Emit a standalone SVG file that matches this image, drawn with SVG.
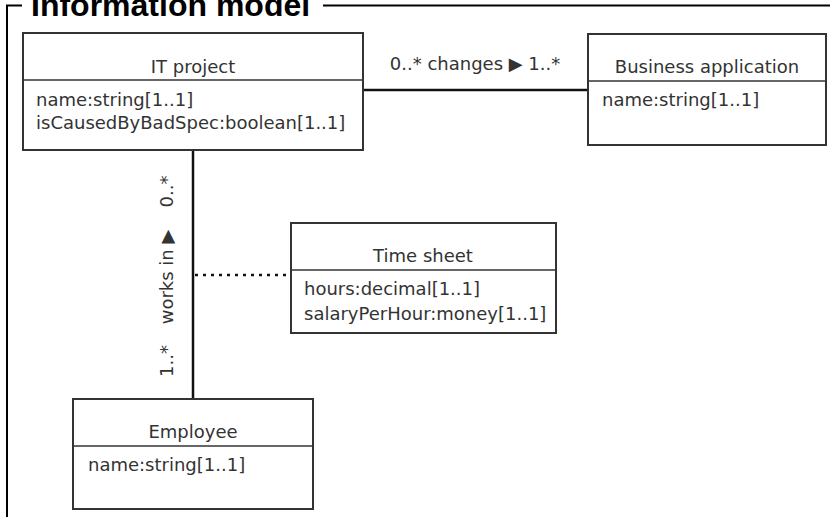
<svg xmlns="http://www.w3.org/2000/svg" width="830" height="517" viewBox="0 0 830 517">
<style>
.frame{fill:none;stroke:#000;stroke-width:2}
.title{font-family:"Liberation Sans",Arial,sans-serif;font-weight:bold;font-size:32px;fill:#000}
.box{fill:#fff;stroke:#333;stroke-width:2}
.div{stroke:#333;stroke-width:1.5}
.t{font-family:"DejaVu Sans",Verdana,sans-serif;font-size:18px;fill:#333}
.c{text-anchor:middle}
.conn{fill:none;stroke:#111;stroke-width:2.5}
.dot{fill:none;stroke:#111;stroke-width:2.5;stroke-dasharray:3 5}
</style>
<g id="frame">
<path class="frame" d="M22,5.5 H7 V517"/>
<line class="frame" x1="323" y1="5.5" x2="830" y2="5.5"/>
<text class="title" x="31" y="16">Information model</text>
</g>
<g id="connectors">
<line class="conn" x1="363" y1="90" x2="588" y2="90"/>
<line class="conn" x1="193" y1="150" x2="193" y2="399"/>
<line class="dot" x1="195" y1="275" x2="291" y2="275"/>
<text class="t c" x="475" y="70">0..* changes ▶ 1..*</text>
<text class="t c" transform="translate(173,191.5) rotate(-90)">0..*</text>
<text class="t c" transform="translate(173,277) rotate(-90)">works in ▶</text>
<text class="t c" transform="translate(173,361) rotate(-90)">1..*</text>
</g>
<g id="it-project">
<rect class="box" x="23" y="33" width="340" height="117"/>
<line class="div" x1="23" y1="80" x2="363" y2="80"/>
<text class="t c" x="193" y="73">IT project</text>
<text class="t" x="36" y="106">name:string[1..1]</text>
<text class="t" x="36" y="129">isCausedByBadSpec:boolean[1..1]</text>
</g>
<g id="business-application">
<rect class="box" x="588" y="34" width="238" height="111"/>
<line class="div" x1="588" y1="81" x2="826" y2="81"/>
<text class="t c" x="707" y="73">Business application</text>
<text class="t" x="602" y="106">name:string[1..1]</text>
</g>
<g id="time-sheet">
<rect class="box" x="291" y="223" width="265" height="110"/>
<line class="div" x1="291" y1="270" x2="556" y2="270"/>
<text class="t c" x="423" y="262">Time sheet</text>
<text class="t" x="304" y="295">hours:decimal[1..1]</text>
<text class="t" x="304" y="320">salaryPerHour:money[1..1]</text>
</g>
<g id="employee">
<rect class="box" x="73" y="399" width="240" height="110"/>
<line class="div" x1="73" y1="446" x2="313" y2="446"/>
<text class="t c" x="193" y="438">Employee</text>
<text class="t" x="88" y="471">name:string[1..1]</text>
</g>
</svg>
